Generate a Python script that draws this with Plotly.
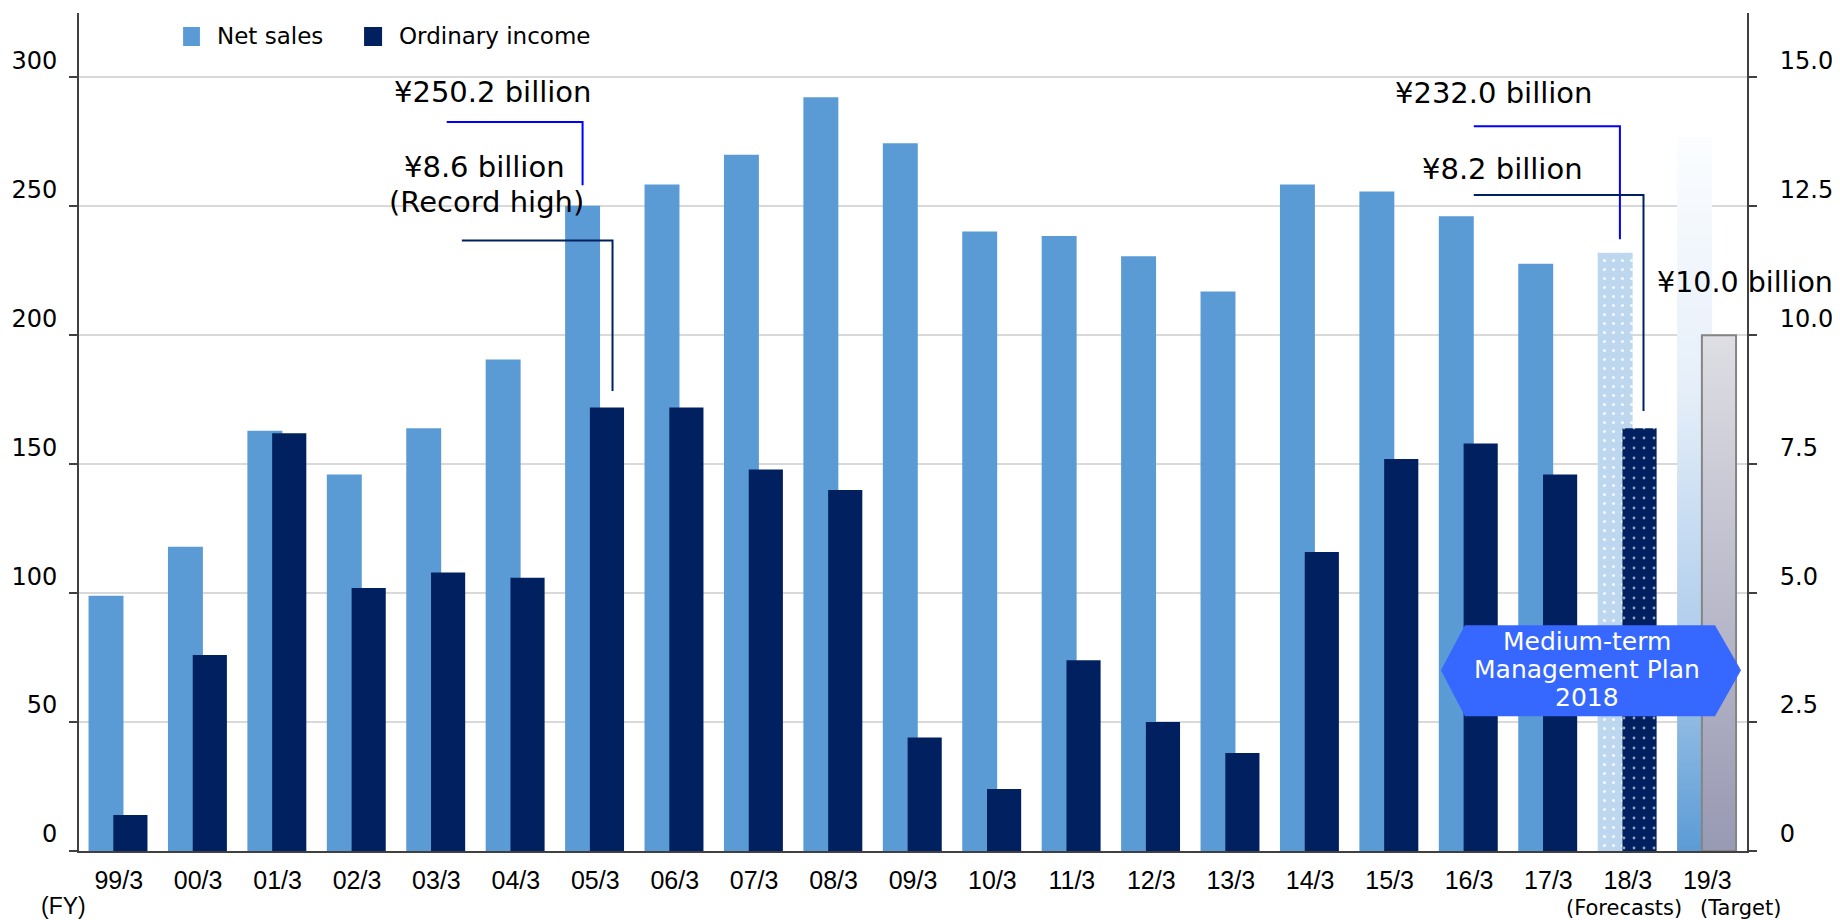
import plotly.graph_objects as go

# ---------------- data ----------------
categories = ["99/3", "00/3", "01/3", "02/3", "03/3", "04/3", "05/3", "06/3", "07/3",
              "08/3", "09/3", "10/3", "11/3", "12/3", "13/3", "14/3", "15/3", "16/3",
              "17/3", "18/3", "19/3"]
net_sales = [99, 118, 163, 146, 164, 190.6, 250.2, 258.5, 270, 292.3, 274.5, 240.3,
             238.5, 230.7, 217, 258.5, 255.8, 246.2, 227.8, 232.0, 277]
ordinary_income = [0.7, 3.8, 8.1, 5.1, 5.4, 5.3, 8.6, 8.6, 7.4, 7.0, 2.2, 1.2, 3.7,
                   2.5, 1.9, 5.8, 7.6, 7.9, 7.3, 8.2, 10.0]
left_ticks = [0, 50, 100, 150, 200, 250, 300]
right_ticks = [0, 2.5, 5.0, 7.5, 10.0, 12.5, 15.0]
right_tick_labels = ["0", "2.5", "5.0", "7.5", "10.0", "12.5", "15.0"]
series_names = ["Net sales", "Ordinary income"]

FORECAST_IDX = 19   # 18/3 (Forecasts)
TARGET_IDX = 20     # 19/3 (Target)

# ---------------- style ----------------
C_NS = "#5b9bd5"
C_NS_FC = "#bdd7ee"
C_OI = "#002060"
C_BLUE_LINE = "#0000ff"
C_HEX = "#3668ff"
FONT = "DejaVu Sans"
NS_OFF, NS_W = -0.38, 0.44
OI_OFF, OI_W = -0.068, 0.43

n_act = FORECAST_IDX            # actual years
xs = list(range(n_act))

fig = go.Figure()

# Net sales bars (actual)
fig.add_trace(go.Bar(
    name=series_names[0], x=xs, y=net_sales[:n_act], yaxis="y",
    offset=NS_OFF, width=NS_W, showlegend=False,
    marker=dict(color=C_NS, line=dict(width=0)), hoverinfo="skip",
))
# Net sales forecast (dotted)
fig.add_trace(go.Bar(
    name=series_names[0], x=[FORECAST_IDX], y=[net_sales[FORECAST_IDX]], yaxis="y",
    offset=NS_OFF, width=NS_W, showlegend=False,
    marker=dict(color=C_NS_FC, line=dict(width=0),
                pattern=dict(shape=".", fillmode="replace", bgcolor=C_NS_FC,
                             fgcolor="#ffffff", fgopacity=0.85, size=9, solidity=0.09)),
    hoverinfo="skip",
))

# Net sales target (gradient fade)
tx0 = TARGET_IDX + NS_OFF
tx1 = tx0 + NS_W
fig.add_trace(go.Scatter(
    x=[tx0, tx1, tx1, tx0, tx0], y=[0, 0, net_sales[TARGET_IDX], net_sales[TARGET_IDX], 0],
    yaxis="y", mode="lines", fill="toself",
    line=dict(width=0, color="rgba(0,0,0,0)"),
    fillgradient=dict(type="vertical",
                      colorscale=[[0, "#5b9bd5"], [0.3, "#afcdec"], [0.65, "#e6eff9"], [1, "#fbfdff"]]),
    showlegend=False, hoverinfo="skip",
))

# Ordinary income bars (actual)
fig.add_trace(go.Bar(
    name=series_names[1], x=xs, y=ordinary_income[:n_act], yaxis="y2",
    offset=OI_OFF, width=OI_W, showlegend=False,
    marker=dict(color=C_OI, line=dict(width=0)), hoverinfo="skip",
))
# Ordinary income forecast (dotted)
fig.add_trace(go.Bar(
    name=series_names[1], x=[FORECAST_IDX], y=[ordinary_income[FORECAST_IDX]], yaxis="y2",
    offset=OI_OFF, width=OI_W, showlegend=False,
    marker=dict(color=C_OI, line=dict(width=0),
                pattern=dict(shape=".", fillmode="replace", bgcolor=C_OI,
                             fgcolor="#aab4d0", fgopacity=0.9, size=10, solidity=0.06)),
    hoverinfo="skip",
))

# Ordinary income target (gray gradient)
gx0 = TARGET_IDX + OI_OFF
gx1 = gx0 + OI_W
fig.add_trace(go.Scatter(
    x=[gx0, gx1, gx1, gx0, gx0],
    y=[0, 0, ordinary_income[TARGET_IDX], ordinary_income[TARGET_IDX], 0],
    yaxis="y2", mode="lines", fill="toself",
    line=dict(width=2, color="#858585"),
    fillgradient=dict(type="vertical", colorscale=[[0, "#9899b3"], [1, "#dedee4"]]),
    showlegend=False, hoverinfo="skip",
))

# ---------------- callouts ----------------
shapes = []
annotations = []


def callout(idx, values, yref, color, left_x, top_y, x_shift, gap):
    v = values[idx]
    if yref == "y":
        cx = idx + NS_OFF + NS_W / 2 + x_shift
    else:
        cx = idx + OI_OFF + OI_W / 2 + x_shift
    shapes.append(dict(type="path", xref="x", yref=yref, layer="above",
                       path=f"M {left_x},{top_y} L {cx},{top_y} L {cx},{v + gap}",
                       line=dict(color=color, width=2)))


callout(6, net_sales, "y", C_BLUE_LINE, 4.13, 282.7, 0.0, 8.0)
callout(6, ordinary_income, "y2", C_OI, 4.32, 11.84, 0.07, 0.32)
callout(19, net_sales, "y", C_BLUE_LINE, 17.06, 281.1, 0.06, 5.3)
callout(19, ordinary_income, "y2", C_OI, 17.06, 12.72, 0.05, 0.33)


def label(x, y, yref, text, size=29, xref="x", color="black", xshift=0, fam=FONT,
          xanchor="center"):
    annotations.append(dict(x=x, y=y, xref=xref, yref=yref, text=text, showarrow=False,
                            xanchor=xanchor, yanchor="middle", xshift=xshift,
                            font=dict(family=fam, size=size, color=color)))


label(4.71, 294.3, "y", "¥250.2 billion")
label(4.61, 13.26, "y2", "¥8.6 billion")
label(4.63, 12.58, "y2", "(Record high)")
label(17.31, 293.9, "y", "¥232.0 billion")
label(17.42, 13.22, "y2", "¥8.2 billion")
label(20.47, 11.03, "y2", "¥10.0 billion", size=28.5)

# Medium-term plan hexagon (paper coords)
shapes.append(dict(type="path", xref="paper", yref="paper", layer="above",
                   path="M 0.8165,0.2157 L 0.8309,0.2695 L 0.9808,0.2695 L 0.9964,0.2157 "
                        "L 0.9808,0.1608 L 0.8309,0.1608 Z",
                   fillcolor=C_HEX, line=dict(width=0)))
for txt, yy in [("Medium-term", 0.2503), ("Management Plan", 0.2160), ("2018", 0.1830)]:
    label(0.9041, yy, "paper", txt, size=25, xref="paper", color="white")

# category footnotes
label(-0.009, -0.066, "paper", "(FY)", size=23, xref="paper", fam="Liberation Sans")
label(FORECAST_IDX, -0.068, "paper", "(Forecasts)", size=21, xshift=-4)
label(TARGET_IDX, -0.068, "paper", "(Target)", size=21, xshift=33)

# manual legend (large square swatches)
legend_items = [(series_names[0], C_NS, 0.0624, 0.0725, 0.0815),
                (series_names[1], C_OI, 0.1709, 0.1817, 0.1906)]
for name, col, sx0, sx1, tx in legend_items:
    shapes.append(dict(type="rect", xref="paper", yref="paper", x0=sx0, x1=sx1,
                       y0=0.9606, y1=0.9833, fillcolor=col, line=dict(width=0)))
    label(tx, 0.972, "paper", name, size=23, xref="paper", xanchor="left")

# the page body has an 8px margin: shrink the figure by 8px so the plot lands right
fig.update_layout(
    width=1832, height=912, autosize=False,
    margin=dict(l=71, r=93, t=5, b=69, autoexpand=False),
    paper_bgcolor="white", plot_bgcolor="white",
    barmode="overlay",
    font=dict(family=FONT, color="black"),
    showlegend=False,
    xaxis=dict(range=[-0.5, TARGET_IDX + 0.5], tickvals=list(range(len(categories))),
               ticktext=categories, showgrid=False, zeroline=False,
               showline=True, linecolor="#404040", linewidth=2, ticks="",
               tickfont=dict(family="Liberation Sans", size=25, color="black"),
               ticklabelstandoff=6, automargin=False, fixedrange=True),
    yaxis=dict(range=[0, 325], tickvals=left_ticks, showgrid=True, gridcolor="#d9d9d9",
               gridwidth=2, zeroline=False, showline=True, linecolor="#404040", linewidth=2,
               ticks="outside", ticklen=8, tickwidth=2, tickcolor="#404040",
               tickfont=dict(family=FONT, size=24, color="black"),
               ticklabelshift=-17, ticklabelstandoff=7, automargin=False),
    yaxis2=dict(range=[0, 16.25], overlaying="y", side="right", tickvals=right_ticks,
                ticktext=right_tick_labels, showgrid=False, zeroline=False,
                showline=True, linecolor="#404040", linewidth=2,
                ticks="outside", ticklen=8, tickwidth=2, tickcolor="#404040",
                tickfont=dict(family=FONT, size=24, color="black"),
                ticklabelshift=-17, ticklabelstandoff=18, automargin=False),
    shapes=shapes, annotations=annotations,
)

fig.write_html("out.html")
